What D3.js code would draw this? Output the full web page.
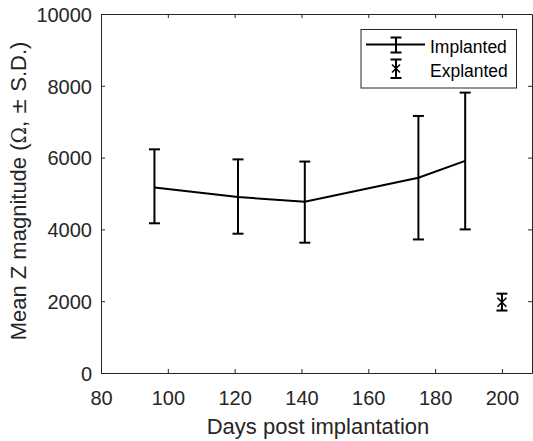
<!DOCTYPE html>
<html>
<head>
<meta charset="utf-8">
<script src="https://cdn.jsdelivr.net/npm/d3@7"></script>
<style>
  body { margin: 0; background: #fff; }
  svg { font-family: "Liberation Sans", Arial, sans-serif; }
</style>
</head>
<body>
<svg id="chart" width="533" height="441"></svg>
<script>
// implanted series: day, mean, upper, lower
const days = [96, 121, 141, 175, 189];
const meanZ = [5170, 4900, 4770, 5440, 5910];
const upperZ = [6230, 5950, 5890, 7160, 7810];
const lowerZ = [4170, 3880, 3630, 3720, 4000];

// explanted point
const explDay = [200];
const explMean = [1970];
const explUpper = [2210];
const explLower = [1740];

const xTicks = [80, 100, 120, 140, 160, 180, 200];
const yTicks = [0, 2000, 4000, 6000, 8000, 10000];

const svg = d3.select('svg#chart');
const axisColor = '#262626';

const plotLeft = 101;
const plotRight = 532;
const plotTop = 14;
const plotBottom = 373;

const xScale = d3.scaleLinear().domain([80, 209]).range([plotLeft, plotRight]);
const yScale = d3.scaleLinear().domain([0, 10000]).range([plotBottom, plotTop]);

// axes (ticks inside, box on)
const xAxis = svg.append('g')
  .attr('transform', `translate(0,${plotBottom})`)
  .call(d3.axisBottom(xScale).tickValues(xTicks).tickFormat(d3.format('d'))
    .tickSizeInner(-4).tickSizeOuter(0).tickPadding(18));
const xTop = svg.append('g')
  .attr('transform', `translate(0,${plotTop})`)
  .call(d3.axisTop(xScale).tickValues(xTicks).tickSizeInner(-4).tickSizeOuter(0).tickFormat(''));
const yAxis = svg.append('g')
  .attr('transform', `translate(${plotLeft},0)`)
  .call(d3.axisLeft(yScale).tickValues(yTicks).tickFormat(d3.format('d'))
    .tickSizeInner(-4).tickSizeOuter(0).tickPadding(9));
const yRight = svg.append('g')
  .attr('transform', `translate(${plotRight},0)`)
  .call(d3.axisRight(yScale).tickValues(yTicks).tickSizeInner(-4).tickSizeOuter(0).tickFormat(''));

[xAxis, xTop, yAxis, yRight].forEach((g) => {
  g.select('.domain').attr('stroke', axisColor).attr('stroke-width', 1);
  g.selectAll('.tick line').attr('stroke', axisColor);
  g.selectAll('.tick text')
    .attr('fill', axisColor)
    .attr('font-size', '20px')
    .attr('font-family', '"Liberation Sans", Arial, sans-serif');
});
yAxis.selectAll('.tick text').attr('dy', '0.36em');

// axis labels
svg.append('text')
  .attr('x', 318)
  .attr('y', 434)
  .attr('text-anchor', 'middle')
  .attr('font-size', '22px')
  .attr('fill', axisColor)
  .text('Days post implantation');

const yLabel = svg.append('text')
  .attr('transform', 'translate(26,191) rotate(-90)')
  .attr('text-anchor', 'middle')
  .attr('font-size', '22px')
  .attr('fill', axisColor);
yLabel.append('tspan').text('Mean Z magnitude (');
yLabel.append('tspan').attr('font-family', '"DejaVu Serif", serif').attr('font-size', '20px').text('Ω');
yLabel.append('tspan').text(',  ');
yLabel.append('tspan').attr('font-family', '"DejaVu Serif", serif').attr('font-size', '20px').text('±');
yLabel.append('tspan').text(' S.D.)');

const implanted = days.map((d, i) => ({ day: d, mean: meanZ[i], hi: upperZ[i], lo: lowerZ[i] }));
const explanted = explDay.map((d, i) => ({ day: d, mean: explMean[i], hi: explUpper[i], lo: explLower[i] }));

const lineFunction = d3.line()
  .x((d) => xScale(d.day))
  .y((d) => yScale(d.mean));

svg.append('path')
  .attr('d', lineFunction(implanted))
  .attr('stroke', '#000')
  .attr('stroke-width', 2)
  .attr('fill', 'none');

const capW = 5.5;
function drawErrorBars(data) {
  const g = svg.append('g').attr('stroke', '#000').attr('stroke-width', 2);
  data.forEach((d) => {
    const x = xScale(d.day);
    g.append('line').attr('x1', x).attr('x2', x).attr('y1', yScale(d.hi)).attr('y2', yScale(d.lo));
    g.append('line').attr('x1', x - capW).attr('x2', x + capW).attr('y1', yScale(d.hi)).attr('y2', yScale(d.hi));
    g.append('line').attr('x1', x - capW).attr('x2', x + capW).attr('y1', yScale(d.lo)).attr('y2', yScale(d.lo));
  });
  return g;
}
drawErrorBars(implanted);
drawErrorBars(explanted);

// x markers for explanted
const m = 4.5;
explanted.forEach((d) => {
  const x = xScale(d.day);
  const y = yScale(d.mean);
  svg.append('path')
    .attr('d', `M${x - m},${y - m}L${x + m},${y + m}M${x - m},${y + m}L${x + m},${y - m}`)
    .attr('stroke', '#000')
    .attr('stroke-width', 1.5);
});

// legend
const legend = svg.append('g');
legend.append('rect')
  .attr('x', 361).attr('y', 29.5)
  .attr('width', 155.5).attr('height', 58.5)
  .attr('fill', '#fff')
  .attr('stroke', axisColor)
  .attr('stroke-width', 1);

const lg = legend.append('g').attr('stroke', '#000').attr('stroke-width', 2);
// implanted entry
lg.append('line').attr('x1', 366).attr('x2', 425).attr('y1', 44.5).attr('y2', 44.5);
lg.append('line').attr('x1', 396).attr('x2', 396).attr('y1', 37.5).attr('y2', 52.5);
lg.append('line').attr('x1', 390.5).attr('x2', 401.5).attr('y1', 37.5).attr('y2', 37.5);
lg.append('line').attr('x1', 390.5).attr('x2', 401.5).attr('y1', 52.5).attr('y2', 52.5);
// explanted entry
lg.append('line').attr('x1', 396).attr('x2', 396).attr('y1', 59.5).attr('y2', 78);
lg.append('line').attr('x1', 390.5).attr('x2', 401.5).attr('y1', 59.5).attr('y2', 59.5);
lg.append('line').attr('x1', 390.5).attr('x2', 401.5).attr('y1', 78).attr('y2', 78);
legend.append('path')
  .attr('d', 'M392,64.5L400,72.5M392,72.5L400,64.5')
  .attr('stroke', '#000').attr('stroke-width', 1.5);

legend.append('text').attr('x', 430).attr('y', 53)
  .attr('font-size', '17.5px').attr('fill', '#000').text('Implanted');
legend.append('text').attr('x', 430).attr('y', 77)
  .attr('font-size', '17.5px').attr('fill', '#000').text('Explanted');
</script>
</body>
</html>
